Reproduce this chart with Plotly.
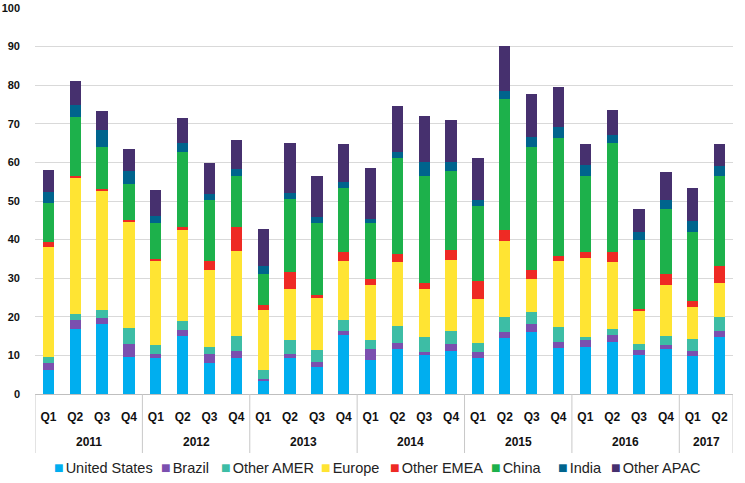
import plotly.graph_objects as go

years = ["2011"]*4 + ["2012"]*4 + ["2013"]*4 + ["2014"]*4 + ["2015"]*4 + ["2016"]*4 + ["2017"]*2
quarters = ["Q1", "Q2", "Q3", "Q4"]*6 + ["Q1", "Q2"]
year_labels = ["2011", "2012", "2013", "2014", "2015", "2016", "2017"]

united_states = [6.3, 16.8, 18.2, 9.6, 9.3, 15.1, 8.0, 9.3, 3.5, 9.3, 6.9, 15.4, 8.9, 11.7, 10.2, 11.1,
                 9.3, 14.5, 16.0, 11.9, 12.3, 13.6, 10.2, 11.7, 9.8, 14.7]
brazil = [1.7, 2.5, 1.4, 3.4, 1.1, 1.6, 2.4, 1.8, 0.5, 1.1, 1.3, 0.8, 2.8, 1.5, 0.7, 1.9,
          1.5, 1.6, 2.2, 1.6, 1.6, 1.8, 1.3, 1.1, 1.4, 1.5]
other_amer = [1.6, 1.5, 2.2, 4.1, 2.4, 2.1, 1.7, 4.0, 2.1, 3.5, 3.3, 3.1, 2.2, 4.3, 3.9, 3.4,
              2.4, 3.8, 3.0, 3.9, 0.9, 1.5, 1.5, 2.1, 3.0, 3.7]
europe = [28.5, 35.3, 31.0, 27.4, 21.6, 23.8, 19.9, 21.9, 15.7, 13.3, 13.4, 15.2, 14.3, 16.6, 12.4, 18.4,
          11.5, 19.7, 8.6, 17.1, 20.4, 17.3, 8.4, 13.4, 8.3, 8.9]
other_emea = [1.2, 0.5, 0.3, 0.7, 0.6, 0.7, 2.4, 6.3, 1.3, 4.3, 0.8, 2.3, 1.7, 2.3, 1.6, 2.6,
              4.5, 2.8, 2.4, 1.3, 1.6, 2.6, 0.7, 2.9, 1.5, 4.3]
china = [10.2, 15.1, 10.8, 9.3, 9.3, 19.4, 15.8, 13.3, 8.1, 19.1, 18.6, 16.6, 14.4, 24.7, 27.6, 20.5,
         19.4, 34.0, 31.7, 30.5, 19.6, 28.1, 17.9, 16.8, 18.0, 23.3]
india = [2.8, 3.1, 4.6, 3.2, 1.9, 2.2, 1.7, 1.7, 2.0, 1.6, 1.6, 1.4, 1.1, 1.5, 3.6, 2.1,
         1.7, 2.0, 2.6, 3.0, 2.8, 2.1, 2.0, 2.3, 2.7, 2.6]
other_apac = [5.8, 6.4, 4.9, 5.9, 6.6, 6.6, 7.9, 7.4, 9.5, 12.7, 10.5, 10.0, 13.1, 11.9, 11.9, 11.1,
              10.8, 11.8, 11.2, 10.2, 5.6, 6.5, 5.9, 7.1, 8.7, 5.8]

series_names = ["United States", "Brazil", "Other AMER", "Europe", "Other EMEA", "China", "India", "Other APAC"]
series_values = [united_states, brazil, other_amer, europe, other_emea, china, india, other_apac]
colors = ["#00AEEF", "#7B4FAF", "#3DBDA5", "#FFE433", "#EE2A24", "#1DB14B", "#00648D", "#46306E"]
# legend entry left edges (page px)
legend_x_px = [52, 159, 219, 319, 388, 489, 556, 609]

x_cats = [f"{y} {q}" for y, q in zip(years, quarters)]

fig = go.Figure()
for name, vals, col in zip(series_names, series_values, colors):
    fig.add_trace(go.Bar(x=x_cats, y=vals, name=name, marker_color=col,
                         marker_line_width=0, showlegend=False))

L, R, T, B, W, H = 35, 12, 8, 89, 745, 483
pw = W - L - R
ph = H - T - B

# Legend drawn as text with coloured squares
for name, col, px in zip(series_names, colors, legend_x_px):
    fig.add_annotation(text=f"<span style='color:{col};font-size:16px'>■</span>"
                            f"<span style='font-size:7px'> </span>{name}",
                       xref="paper", yref="paper", x=(px - L) / pw, y=(394 - 467) / ph,
                       xanchor="left", yanchor="middle", showarrow=False,
                       font=dict(family="Liberation Sans, Arial", size=14.5, color="#222222"))

# Year group labels and dividers
bounds = [0]
for i in range(1, len(years)):
    if years[i] != years[i - 1]:
        bounds.append(i)
bounds.append(len(years))
for k, yl in enumerate(year_labels):
    start, end = bounds[k], bounds[k + 1]
    fig.add_annotation(text=yl, xref="x", yref="paper", x=(start + end - 1) / 2,
                       y=(394 - 442) / ph, xanchor="center", yanchor="middle", showarrow=False,
                       font=dict(family="Liberation Sans, Arial", size=12, color="#111111", weight="bold"))
for bnd in bounds:
    fig.add_shape(type="line", xref="x", yref="paper", x0=bnd - 0.5, x1=bnd - 0.5,
                  y0=0, y1=(394 - 453) / ph, line=dict(color="#C8C8C8", width=1))

tick_font = dict(family="Liberation Sans, Arial", size=12, color="#111111", weight="bold")

fig.update_layout(
    barmode="stack",
    bargap=0.58,
    width=W, height=H,
    margin=dict(l=L, r=R, t=T, b=B),
    plot_bgcolor="white", paper_bgcolor="white",
    font=dict(family="Liberation Sans, Arial", size=12, color="#222222"),
    showlegend=False,
)
fig.update_yaxes(range=[0, 100], dtick=10, showgrid=True, gridcolor="#D9D9D9", gridwidth=1,
                 zeroline=False, showline=False, ticks="", ticklabelstandoff=14,
                 automargin=False, tickfont=dict(family="Liberation Sans, Arial", size=11,
                                                 color="#111111", weight="bold"))
fig.update_xaxes(type="category", tickvals=x_cats, ticktext=quarters, range=[-0.5, len(x_cats) - 0.5],
                 showline=True, linecolor="#BFBFBF", linewidth=1, showgrid=False,
                 ticks="", ticklabelstandoff=12, automargin=False, tickfont=tick_font)

fig.write_html("out.html", config={"displayModeBar": False},
               post_script="document.body.style.margin='0';")
